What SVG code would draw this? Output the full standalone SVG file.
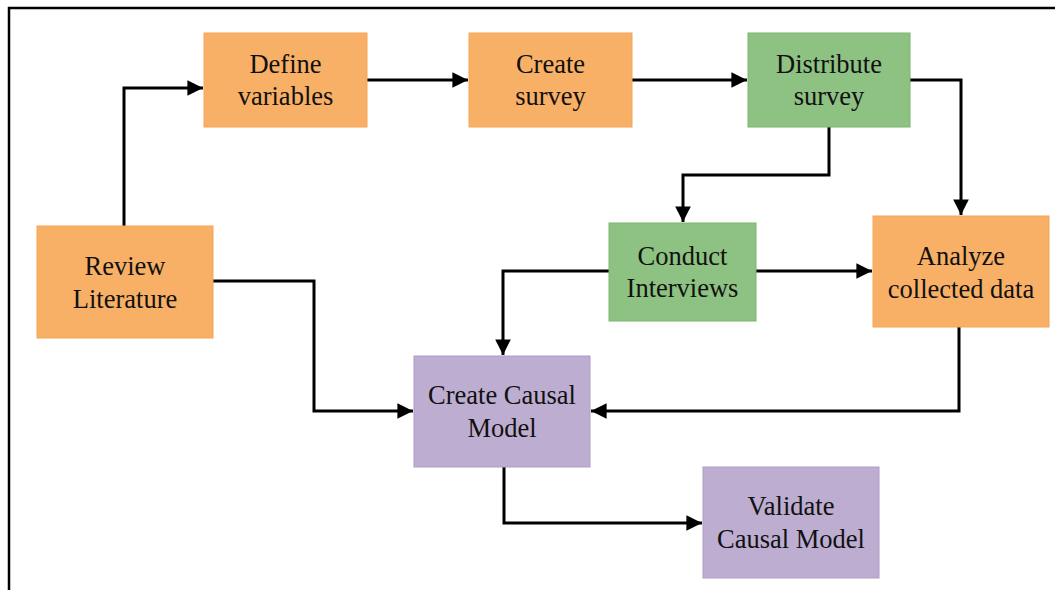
<svg xmlns="http://www.w3.org/2000/svg" width="1055" height="590" viewBox="0 0 1055 590">
  <style>
    .box { stroke-width: 1; }
    .orange { fill: #F8B066; stroke: #F3A556; }
    .green { fill: #8EC282; stroke: #7DB571; }
    .purple { fill: #BDADD0; stroke: #AE9EC4; }
    .label { font-size: 26.5px; fill: #111; text-anchor: middle; }
    .wire { fill: none; stroke: #000; stroke-width: 3; stroke-linejoin: miter; }
  </style>
  <defs>
    <marker id="arrow" viewBox="0 0 10 10" refX="10" refY="5" markerWidth="5.2" markerHeight="5.2" markerUnits="strokeWidth" orient="auto">
      <path d="M0,0 L10,5 L0,10 Z" fill="#000"/>
    </marker>
  </defs>
  <rect width="1055" height="590" fill="#fff"/>
  <!-- outer frame: top and left edges -->
  <path d="M9,590 V8 H1055" fill="none" stroke="#000" stroke-width="2.5"/>

  <g id="connectors">
    <path class="wire" d="M124,226 V88 H203" marker-end="url(#arrow)"/>
    <path class="wire" d="M367,80 H468" marker-end="url(#arrow)"/>
    <path class="wire" d="M632,80 H747" marker-end="url(#arrow)"/>
    <path class="wire" d="M910,80 H961 V215" marker-end="url(#arrow)"/>
    <path class="wire" d="M829,127 V175 H683 V222" marker-end="url(#arrow)"/>
    <path class="wire" d="M756,271 H872" marker-end="url(#arrow)"/>
    <path class="wire" d="M609,271 H503 V355" marker-end="url(#arrow)"/>
    <path class="wire" d="M213,281 H314 V411 H413" marker-end="url(#arrow)"/>
    <path class="wire" d="M959,327 V411 H591" marker-end="url(#arrow)"/>
    <path class="wire" d="M504,467 V523 H702" marker-end="url(#arrow)"/>
  </g>

  <g font-family="'Times New Roman', 'Liberation Serif', Tinos, 'DejaVu Serif', serif">
    <g id="review-literature">
      <rect class="box orange" x="37" y="226" width="176" height="112"/>
      <text class="label" x="125" y="275">Review</text>
      <text class="label" x="125" y="308">Literature</text>
    </g>
    <g id="define-variables">
      <rect class="box orange" x="204" y="33" width="163" height="94"/>
      <text class="label" x="285.5" y="73">Define</text>
      <text class="label" x="285.5" y="105">variables</text>
    </g>
    <g id="create-survey">
      <rect class="box orange" x="469" y="33" width="163" height="94"/>
      <text class="label" x="550.5" y="73">Create</text>
      <text class="label" x="550.5" y="105">survey</text>
    </g>
    <g id="distribute-survey">
      <rect class="box green" x="748" y="33" width="162" height="94"/>
      <text class="label" x="829" y="73">Distribute</text>
      <text class="label" x="829" y="105">survey</text>
    </g>
    <g id="conduct-interviews">
      <rect class="box green" x="609" y="223" width="147" height="98"/>
      <text class="label" x="682.5" y="265">Conduct</text>
      <text class="label" x="682.5" y="297">Interviews</text>
    </g>
    <g id="analyze-data">
      <rect class="box orange" x="873" y="216" width="176" height="111"/>
      <text class="label" x="961" y="265">Analyze</text>
      <text class="label" x="961" y="298">collected data</text>
    </g>
    <g id="create-causal-model">
      <rect class="box purple" x="414" y="356" width="176" height="111"/>
      <text class="label" x="502" y="404">Create Causal</text>
      <text class="label" x="502" y="437">Model</text>
    </g>
    <g id="validate-causal-model">
      <rect class="box purple" x="703" y="467" width="176" height="111"/>
      <text class="label" x="791" y="515">Validate</text>
      <text class="label" x="791" y="548">Causal Model</text>
    </g>
  </g>
</svg>
